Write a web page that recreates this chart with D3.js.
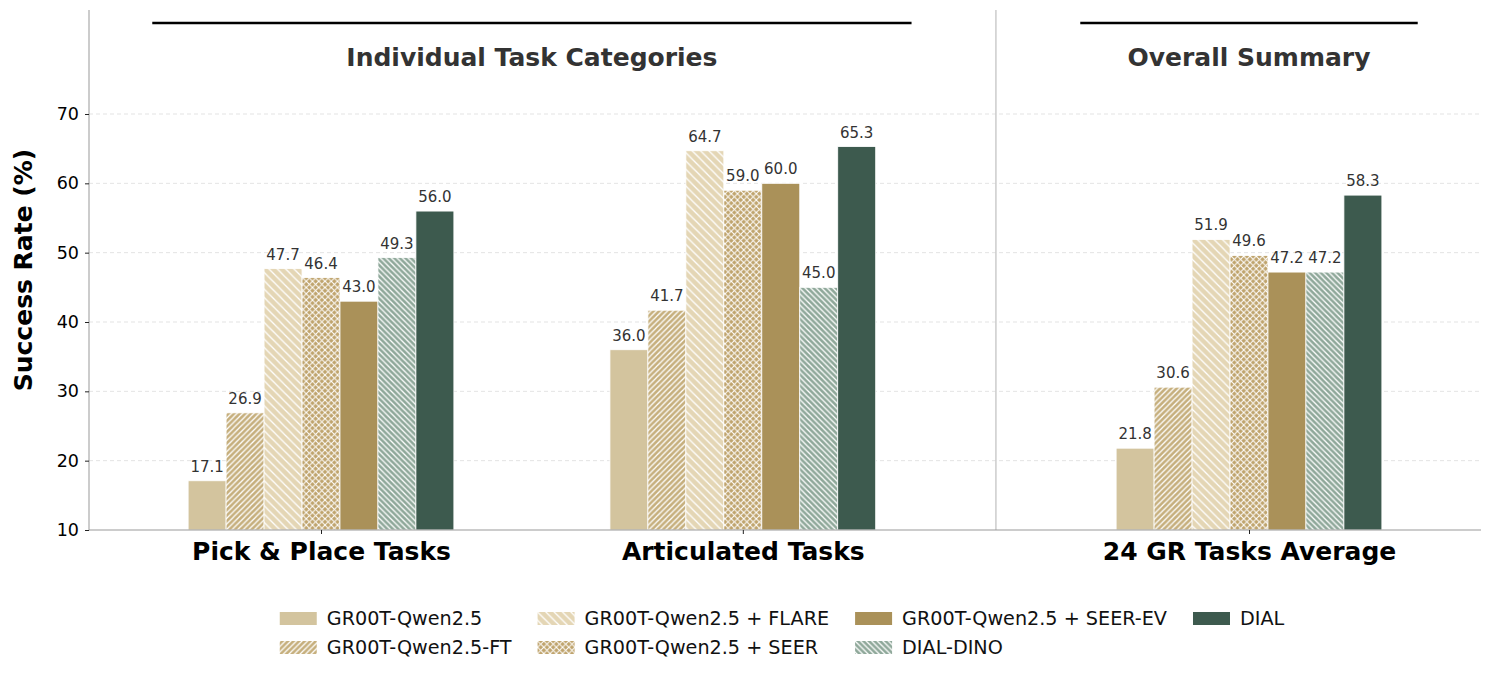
<!DOCTYPE html>
<html>
<head>
<meta charset="utf-8">
<script src="https://cdn.jsdelivr.net/npm/d3@7"></script>
<style>
  html, body { margin: 0; padding: 0; background: #fff; }
  svg { display: block; font-family: "DejaVu Sans", sans-serif; }
</style>
</head>
<body>
<svg id="chart" width="1491" height="675"></svg>
<script>
// データ
const groups = ['Pick & Place Tasks', 'Articulated Tasks', '24 GR Tasks Average'];
const groupPos = [0, 1, 2.2];
const methods = [
  'GR00T-Qwen2.5',
  'GR00T-Qwen2.5-FT',
  'GR00T-Qwen2.5 + FLARE',
  'GR00T-Qwen2.5 + SEER',
  'GR00T-Qwen2.5 + SEER-EV',
  'DIAL-DINO',
  'DIAL'
];
const pickPlace = [17.1, 26.9, 47.7, 46.4, 43.0, 49.3, 56.0];
const articulated = [36.0, 41.7, 64.7, 59.0, 60.0, 45.0, 65.3];
const grAverage = [21.8, 30.6, 51.9, 49.6, 47.2, 47.2, 58.3];
const seriesByGroup = [pickPlace, articulated, grAverage];
const yTicks = [10, 20, 30, 40, 50, 60, 70];

// 見た目
const colors = ['#D3C49E', '#C6AF7D', '#E4D6B5', '#BFA46D', '#AA9159', '#8FA89A', '#3D5A4E'];
const hatches = [null, 'ne', 'nw-wide', 'cross', null, 'nw', null];

const svg = d3.select('#chart');
const margin = { left: 89, right: 10, top: 10, bottom: 145 };
const W = 1491, H = 675;

const x = d3.scaleLinear().domain([-0.55, 2.75]).range([margin.left, W - margin.right]);
const y = d3.scaleLinear().domain([10, 85]).range([H - margin.bottom, margin.top]);
const barW = 0.09;

// ハッチパターン
const defs = svg.append('defs');
function makePattern(id, kind, bg) {
  const s = kind === 'nw-wide' ? 8.33 : kind === 'cross' ? 6.25 : 5.56;
  const sw = kind === 'cross' ? 1.0 : 1.25;
  const p = defs.append('pattern')
    .attr('id', id)
    .attr('patternUnits', 'userSpaceOnUse')
    .attr('width', s).attr('height', s);
  p.append('rect').attr('width', s).attr('height', s).attr('fill', bg);
  const line = (x1, y1, x2, y2) => p.append('line')
    .attr('x1', x1).attr('y1', y1).attr('x2', x2).attr('y2', y2)
    .attr('stroke', '#fff').attr('stroke-width', sw);
  if (kind === 'ne' || kind === 'cross') {
    line(-1, s + 1, s + 1, -1);
    line(-1, 1, 1, -1);
    line(s - 1, s + 1, s + 1, s - 1);
  }
  if (kind === 'nw' || kind === 'nw-wide' || kind === 'cross') {
    line(-1, -1, s + 1, s + 1);
    line(s - 1, -1, s + 1, 1);
    line(-1, s - 1, 1, s + 1);
  }
}
const fillFor = i => {
  if (!hatches[i]) return colors[i];
  return `url(#hatch${i})`;
};
hatches.forEach((h, i) => { if (h) makePattern('hatch' + i, h, colors[i]); });

// グリッド
svg.append('g')
  .selectAll('line')
  .data(yTicks.slice(1))
  .join('line')
  .attr('x1', x.range()[0]).attr('x2', x.range()[1])
  .attr('y1', d => y(d)).attr('y2', d => y(d))
  .attr('stroke', '#dcdcdc').attr('stroke-width', 0.8)
  .attr('stroke-dasharray', '4,3');

// 区切り線
svg.append('line')
  .attr('x1', x(1.6)).attr('x2', x(1.6))
  .attr('y1', y(85)).attr('y2', y(10))
  .attr('stroke', '#cccccc').attr('stroke-width', 1.5);

// 棒
const flat = [];
seriesByGroup.forEach((vals, g) => {
  vals.forEach((v, i) => flat.push({ g, i, v, cx: groupPos[g] + (i - 3) * barW }));
});

const bars = svg.append('g');
bars.selectAll('rect')
  .data(flat)
  .join('rect')
  .attr('x', d => x(d.cx - barW / 2))
  .attr('width', x(barW) - x(0))
  .attr('y', d => y(d.v))
  .attr('height', d => y(10) - y(d.v))
  .attr('fill', d => fillFor(d.i))
  .attr('stroke', '#fff').attr('stroke-width', 0.8);

bars.selectAll('text')
  .data(flat)
  .join('text')
  .attr('x', d => x(d.cx))
  .attr('y', d => y(d.v) - 9)
  .attr('text-anchor', 'middle')
  .attr('font-size', 15)
  .attr('fill', '#333')
  .text(d => d.v.toFixed(1));

// 軸
const yAxis = svg.append('g')
  .attr('transform', `translate(${margin.left},0)`)
  .call(d3.axisLeft(y).tickValues(yTicks).tickSize(4).tickPadding(6));
yAxis.select('.domain').attr('stroke', '#999').attr('stroke-width', 1).attr('d', `M0,${y(85)}V${y(10)}`);
yAxis.selectAll('.tick line').attr('stroke', '#222');
yAxis.selectAll('.tick text').attr('font-size', 17.5).attr('fill', '#000').attr('font-family', 'DejaVu Sans');

const xAxis = svg.append('g')
  .attr('transform', `translate(0,${y(10)})`)
  .call(d3.axisBottom(x).tickValues(groupPos).tickSize(4).tickFormat((d, i) => groups[i]).tickPadding(8));
xAxis.select('.domain').attr('stroke', '#999').attr('stroke-width', 1).attr('d', `M${x.range()[0]},0H${x.range()[1]}`);
xAxis.selectAll('.tick line').attr('stroke', '#222');
xAxis.selectAll('.tick text')
  .attr('font-size', 25).attr('font-weight', 'bold').attr('fill', '#000')
  .attr('font-family', 'DejaVu Sans');

// 軸ラベル
svg.append('text')
  .attr('transform', `translate(32,${(y(10) + y(85)) / 2}) rotate(-90)`)
  .attr('text-anchor', 'middle')
  .attr('font-size', 25).attr('font-weight', 'bold')
  .text('Success Rate (%)');

// セクション見出し
const sections = [
  { title: 'Individual Task Categories', from: -0.4, to: 1.4, mid: 0.5 },
  { title: 'Overall Summary', from: 1.8, to: 2.6, mid: 2.2 }
];
sections.forEach(s => {
  svg.append('line')
    .attr('x1', x(s.from)).attr('x2', x(s.to))
    .attr('y1', 23).attr('y2', 23)
    .attr('stroke', '#000').attr('stroke-width', 2.5);
  svg.append('text')
    .attr('x', x(s.mid)).attr('y', 66)
    .attr('text-anchor', 'middle')
    .attr('font-size', 25).attr('font-weight', 'bold')
    .attr('fill', '#333')
    .text(s.title);
});

// 凡例
const legend = svg.append('g');
const patchW = 37, patchH = 13, textGap = 10, colGap = 26, rowH = 29;
const nCol = 4;
const cols = d3.range(nCol).map(c => methods.map((m, i) => i).filter(i => Math.floor(i / 2) === c));
const items = legend.selectAll('g.item')
  .data(methods.map((m, i) => ({ m, i, c: Math.floor(i / 2), r: i % 2 })))
  .join('g').attr('class', 'item');
items.append('rect')
  .attr('width', patchW).attr('height', patchH)
  .attr('fill', d => fillFor(d.i));
items.append('text')
  .attr('x', patchW + textGap).attr('y', patchH / 2)
  .attr('dy', '0.35em')
  .attr('font-size', 19.2).attr('fill', '#111')
  .text(d => d.m);
const colWidths = cols.map(ids => d3.max(ids, i => items.filter(d => d.i === i).select('text').node().getComputedTextLength()) + patchW + textGap);
const totalW = d3.sum(colWidths) + colGap * (nCol - 1);
let cx0 = (x.range()[0] + x.range()[1]) / 2 - totalW / 2 - 3;
const colX = colWidths.map(w => { const v = cx0; cx0 += w + colGap; return v; });
items.attr('transform', d => `translate(${colX[d.c]},${612 + d.r * rowH})`);
</script>
</body>
</html>
